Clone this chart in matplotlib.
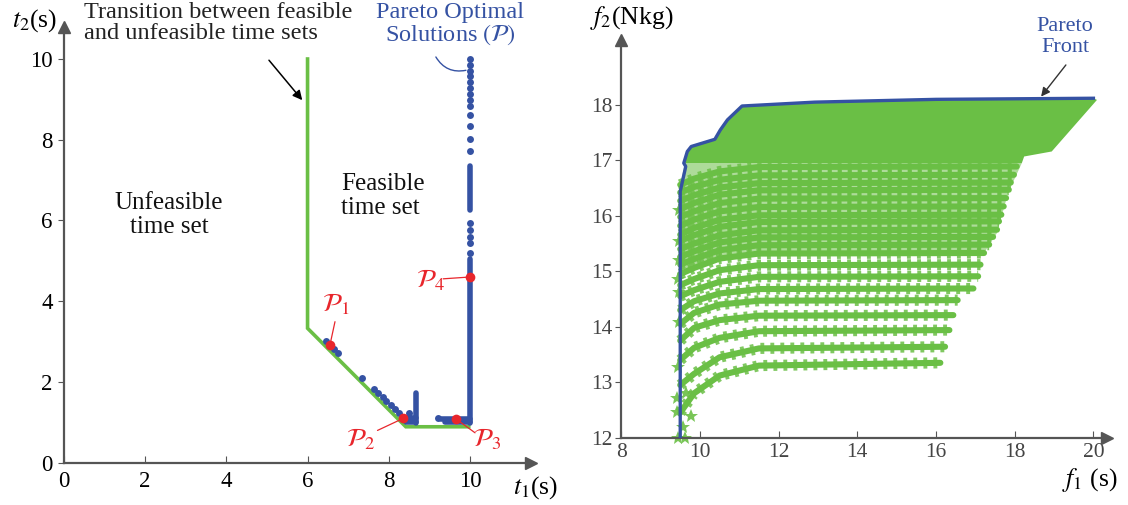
import matplotlib
matplotlib.use('Agg')
import matplotlib.pyplot as plt
import numpy as np

plt.rcParams['font.family'] = ['Liberation Serif', 'DejaVu Serif']
plt.rcParams['mathtext.fontset'] = 'stix'

GREEN = '#6abf45'
BLUE = '#3552a3'
RED = '#e8262c'
GRAY = '#555555'

# ---------------- left panel data (t1, t2 in s) ----------------
border_t1 = [6.0, 6.0, 8.42, 9.97]
border_t2 = [10.0, 3.33, 0.89, 0.89]

# single Pareto-optimal dots
dot_t1 = [10, 10, 10, 10, 10, 10, 10, 10, 10, 10, 10, 10, 10, 10, 10, 10, 10, 10,
          6.45, 6.65, 6.75, 7.35, 7.64, 7.74, 7.85, 7.94, 8.05, 8.15, 8.25, 8.35, 8.50, 9.22]
dot_t2 = [10.0, 9.86, 9.71, 9.57, 9.43, 9.28, 9.13, 8.99, 8.83, 8.62, 8.33, 8.02, 7.71,
          5.93, 5.77, 5.60, 5.44, 5.19,
          3.01, 2.81, 2.71, 2.10, 1.82, 1.72, 1.62, 1.52, 1.42, 1.32, 1.22, 1.14, 1.22, 1.10]

# runs of touching dots: (t1 start, t2 start, t1 end, t2 end)
runs = [(10.0, 7.34, 10.0, 6.26),
        (10.0, 5.04, 10.0, 0.99),
        (8.68, 1.73, 8.68, 0.99),
        (8.42, 1.00, 8.66, 1.00),
        (8.45, 1.10, 8.66, 1.10),
        (9.28, 1.08, 10.0, 1.08),
        (9.38, 1.00, 10.0, 1.00)]

# highlighted solutions P1..P4
sel_t1 = [6.55, 8.36, 9.66, 10.0]
sel_t2 = [2.91, 1.10, 1.08, 4.60]
sel_names = [r'$\mathcal{P}_1$', r'$\mathcal{P}_2$', r'$\mathcal{P}_3$', r'$\mathcal{P}_4$']
sel_text_t1 = [6.70, 7.30, 10.42, 9.02]
sel_text_t2 = [3.92, 0.58, 0.58, 4.52]
sel_lead_t1 = [6.69, 7.66, 10.18, 9.27]
sel_lead_t2 = [3.56, 0.77, 0.70, 4.55]

# ---------------- right panel data (f1 in s, f2 in Nkg) ----------------
pareto_f1 = [9.5, 9.5, 9.64, 9.59, 9.68, 9.78, 10.38, 10.52, 10.70, 11.07, 12.92, 16.0, 20.0]
pareto_f2 = [12.0, 16.44, 16.89, 16.95, 17.16, 17.25, 17.38, 17.55, 17.73, 17.98, 18.05, 18.10, 18.12]

# dense upper block of solutions
top_f1 = [9.62, 9.68, 9.78, 10.38, 10.52, 10.70, 11.07, 12.92, 20.0, 20.09, 18.94, 18.24, 18.18]
top_f2 = [16.95, 17.16, 17.25, 17.38, 17.55, 17.73, 17.98, 18.05, 18.12, 18.09, 17.16, 17.07, 16.95]

# tighter middle block, where the bands nearly touch
mid_f1 = [9.5, 9.85, 10.5, 11.5, 17.22, 17.55, 17.83, 18.18, 9.62, 9.5]
mid_f2 = [14.95, 15.06, 15.23, 15.32, 15.33, 15.69, 16.41, 16.95, 16.95, 16.56]

# bands of solutions: f2 read at fixed f1 knots, then flat up to the band end
knot_f1 = [9.5, 9.85, 10.5, 11.5]
band_f2 = [
    [12.45, 12.80, 13.12, 13.30],
    [12.95, 13.15, 13.45, 13.61],
    [13.40, 13.62, 13.80, 13.92],
    [13.75, 13.98, 14.12, 14.20],
    [14.05, 14.25, 14.40, 14.47],
    [14.30, 14.46, 14.60, 14.68],
    [14.55, 14.66, 14.81, 14.90],
    [14.75, 14.86, 15.02, 15.11],
    [14.95, 15.06, 15.23, 15.32],
    [15.12, 15.22, 15.38, 15.47],
    [15.26, 15.36, 15.52, 15.61],
    [15.40, 15.50, 15.65, 15.74],
    [15.55, 15.65, 15.80, 15.89],
    [15.66, 15.78, 15.93, 16.01],
    [15.82, 15.93, 16.08, 16.16],
    [15.98, 16.08, 16.23, 16.31],
    [16.12, 16.23, 16.38, 16.46],
    [16.27, 16.37, 16.51, 16.59],
    [16.42, 16.52, 16.65, 16.73],
    [16.56, 16.67, 16.80, 16.88],
]
band_level = [13.35, 13.64, 13.94, 14.21, 14.48, 14.69, 14.91, 15.12, 15.33, 15.48,
              15.62, 15.75, 15.90, 16.02, 16.17, 16.32, 16.47, 16.60, 16.74, 16.89]
band_end = [16.11, 16.23, 16.34, 16.44, 16.55, 16.95, 17.07, 17.13, 17.22, 17.35,
            17.45, 17.55, 17.60, 17.66, 17.72, 17.78, 17.85, 17.90, 17.98, 18.05]

# loose solutions close to the vertical front
loose_f1 = [9.45, 9.62, 9.58, 9.41, 9.77, 9.41, 9.65, 9.45, 9.47, 9.46, 9.45, 9.47, 9.46, 9.48]
loose_f2 = [12.0, 12.0, 12.2, 12.46, 12.40, 12.72, 12.81, 13.28, 14.08, 14.62, 14.86, 15.2, 15.55, 16.1]

fig = plt.figure(figsize=(11.28, 5.05), dpi=100)


def px(x, y):
    return x / 1128, 1 - y / 505


# ================= left panel =================
ax1 = fig.add_axes([63.9 / 1128, 42.3 / 505, 467 / 1128, 436 / 505])
ax1.set_xlim(0, 11.5)
ax1.set_ylim(0, 10.8)

ax1.plot(border_t1, border_t2, color=GREEN, lw=2.6, solid_joinstyle='miter', zorder=2)
for a, b, c, d in runs:
    ax1.plot([a, c], [b, d], color=BLUE, lw=4.0, solid_capstyle='round', zorder=3)
ax1.plot(dot_t1, dot_t2, 'o', color=BLUE, ms=5.0, mew=0, zorder=3)
ax1.plot(sel_t1, sel_t2, 'o', color=RED, ms=7, mew=0, zorder=5)
for i in range(4):
    ax1.annotate('', xy=(sel_t1[i], sel_t2[i]), xytext=(sel_lead_t1[i], sel_lead_t2[i]),
                 arrowprops=dict(arrowstyle='-', color=RED, lw=0.9, shrinkB=3), zorder=4)
    ax1.text(sel_text_t1[i], sel_text_t2[i], sel_names[i], color=RED, fontsize=19,
             ha='center', va='center', clip_on=False)

ax1.annotate('', xy=(5.87, 8.98), xytext=(5.05, 9.97),
             arrowprops=dict(arrowstyle='-|>', color='black', lw=1.1, mutation_scale=14,
                             shrinkA=0, shrinkB=0), annotation_clip=False)
ax1.annotate('', xy=(9.9, 9.72), xytext=(9.16, 10.05),
             arrowprops=dict(arrowstyle='-', color=BLUE, lw=1.0,
                             connectionstyle='arc3,rad=0.35', shrinkA=0, shrinkB=0),
             annotation_clip=False)

ax1.set_xticks([0, 2, 4, 6, 8, 10])
ax1.set_yticks([0, 2, 4, 6, 8, 10])
ax1.tick_params(axis='x', direction='in', length=5, color=GRAY, labelsize=16.5, pad=6)
ax1.tick_params(axis='y', direction='out', length=4, color=GRAY, labelsize=16.5, pad=4)

# ================= right panel =================
ax2 = fig.add_axes([621.2 / 1128, 67.3 / 505, 486 / 1128, 397.7 / 505])
ax2.set_xlim(8, 20.35)
ax2.set_ylim(12, 19.17)

ax2.fill(top_f1, top_f2, color=GREEN, lw=0, zorder=1)
ax2.fill(mid_f1, mid_f2, color=GREEN, alpha=0.55, lw=0, zorder=1)
for lv, f2s, end in zip(band_level, band_f2, band_end):
    xs = knot_f1 + [end]
    ys = f2s + [lv]
    ax2.plot(xs, ys, color=GREEN, lw=4.4, solid_capstyle='round', zorder=2)
    ax2.plot(xs, ys, color=GREEN, lw=8, alpha=0.85, dashes=(0.35, 0.55), zorder=2)
ax2.plot(loose_f1, loose_f2, '*', color=GREEN, ms=10, mew=0, alpha=0.9, zorder=2, clip_on=False)
ax2.plot(pareto_f1, pareto_f2, color=BLUE, lw=2.4, zorder=4)

ax2.annotate('', xy=(18.67, 18.15), xytext=(19.3, 18.72),
             arrowprops=dict(arrowstyle='-|>', color='#333333', lw=1.0, mutation_scale=13,
                             shrinkA=0, shrinkB=0), zorder=5)
ax2.text(19.28, 19.22, 'Pareto\nFront', color=BLUE, fontsize=16, ha='center', va='center',
         linespacing=1.15, clip_on=False)

ax2.set_xticks([8, 10, 12, 14, 16, 18, 20])
ax2.set_yticks([12, 13, 14, 15, 16, 17, 18])
ax2.tick_params(axis='x', direction='in', length=5, color=GRAY, labelsize=15.5,
                labelcolor='#444444', pad=4)
ax2.tick_params(axis='y', direction='out', length=4, color=GRAY, labelsize=15.5,
                labelcolor='#444444', pad=2)

# axes with arrow heads
for ax in (ax1, ax2):
    for s in ('top', 'right'):
        ax.spines[s].set_visible(False)
    for s in ('left', 'bottom'):
        ax.spines[s].set_color(GRAY)
        ax.spines[s].set_linewidth(1.6)
    ax.plot(1, 0, '>', color=GRAY, ms=9, transform=ax.transAxes, clip_on=False)
    ax.plot(0, 1, '^', color=GRAY, ms=9, transform=ax.transAxes, clip_on=False)

# texts around the panels
fig.text(*px(84, 2), 'Transition between feasible\nand unfeasible time sets', fontsize=17.5,
         ha='left', va='top', linespacing=1.0, color='#222222')
fig.text(*px(450, 2), 'Pareto Optimal\nSolutions $(\\mathcal{P})$', fontsize=17.5,
         ha='center', va='top', linespacing=1.0, color=BLUE)
fig.text(*px(169, 215), 'Unfeasible\ntime set', fontsize=18, ha='center', va='center',
         linespacing=1.1, color='#111111')
fig.text(*px(341, 196), 'Feasible\ntime set', fontsize=18, ha='left', va='center',
         linespacing=1.1, color='#111111')
fig.text(*px(35, 21), '$t_2$(s)', fontsize=18.5, ha='center', va='center')
fig.text(*px(513, 488), '$t_1$(s)', fontsize=18.5, ha='left', va='center')
fig.text(*px(632, 18), '$f_2$(Nkg)', fontsize=18.5, ha='center', va='center')
fig.text(*px(1090, 480), '$f_1$ (s)', fontsize=18.5, ha='center', va='center')

fig.savefig('out.png', dpi=100)
